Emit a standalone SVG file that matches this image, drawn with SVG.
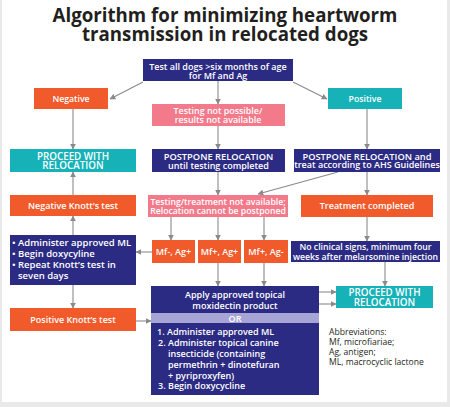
<svg xmlns="http://www.w3.org/2000/svg" width="450" height="407" viewBox="0 0 450 407">
<defs>
<marker id="ah" viewBox="0 0 10 10" refX="9" refY="5" markerWidth="6" markerHeight="6" markerUnits="userSpaceOnUse" orient="auto">
<path d="M0,0 L10,5 L0,10 z" fill="#8a8a8a"/>
</marker>
<style>
.navy{fill:#2c2b84}
.org{fill:#f15a2b}
.teal{fill:#17b2b8}
.pink{fill:#f27a8b}
.lav{fill:#a7a5d6}
text{font-family:"Open Sans","Liberation Sans",sans-serif;fill:#fff;font-weight:600}
.c{text-anchor:middle}
.t{font-size:8.7px}
.b{font-size:9px}
.p{font-size:9.8px}
.l{font-size:9.5px}
.title{font-family:"Open Sans","Liberation Sans",sans-serif;font-weight:700;font-size:18.7px;fill:#231f20;text-anchor:middle}
.ab{fill:#231f20;font-size:8.6px;font-weight:500}
.con line{stroke:#8a8a8a;stroke-width:1.1;fill:none;marker-end:url(#ah)}
</style>
</defs>
<rect width="450" height="407" fill="#e9e9e9"/>
<rect x="2" y="0" width="445" height="402" fill="#fff"/>
<g id="title">
<text class="title" x="225" y="22">Algorithm for minimizing heartworm</text>
<text class="title" x="225" y="41">transmission in relocated dogs</text>
</g>
<g class="con" id="connectors">
<line x1="143" y1="82" x2="110" y2="99"/>
<line x1="293" y1="82" x2="327" y2="99"/>
<line x1="218" y1="81" x2="218" y2="104"/>
<line x1="73" y1="109" x2="73" y2="149"/>
<line x1="367" y1="109" x2="367" y2="149"/>
<line x1="218" y1="126" x2="218" y2="149"/>
<line x1="73" y1="195" x2="73" y2="172"/>
<line x1="218" y1="172" x2="218" y2="195"/>
<line x1="367" y1="172" x2="367" y2="195"/>
<line x1="338" y1="172" x2="258" y2="194"/>
<line x1="171" y1="217" x2="171" y2="240"/>
<line x1="218" y1="217" x2="218" y2="240"/>
<line x1="264" y1="217" x2="264" y2="240"/>
<line x1="152" y1="252" x2="136" y2="252"/>
<line x1="73" y1="235" x2="73" y2="216"/>
<line x1="367" y1="217" x2="367" y2="241"/>
<line x1="73" y1="285" x2="73" y2="308"/>
<line x1="218" y1="263" x2="218" y2="286"/>
<line x1="264" y1="263" x2="264" y2="286"/>
<line x1="385" y1="262" x2="385" y2="286"/>
<line x1="136" y1="321" x2="151" y2="321"/>
<line x1="319" y1="292" x2="336" y2="292"/>
<line x1="319" y1="304" x2="336" y2="304"/>
</g>
<g id="test-all">
<rect class="navy" x="143" y="59" width="150" height="22"/>
<text class="c" font-size="9" x="218" y="70">Test all dogs &gt;six months of age</text>
<text class="c" font-size="9" x="218" y="78.5">for Mf and Ag</text>
</g>
<g id="negative">
<rect class="org" x="34" y="88" width="74" height="21"/>
<text class="c t" x="71" y="101.5">Negative</text>
</g>
<g id="positive">
<rect class="teal" x="328" y="88" width="74" height="21"/>
<text class="c t" x="365" y="101.5">Positive</text>
</g>
<g id="testing-not-possible">
<rect class="pink" x="152" y="104" width="133" height="22"/>
<text class="c" font-size="8.9" x="218" y="114">Testing not possible/</text>
<text class="c" font-size="8.9" x="218" y="123">results not available</text>
</g>
<g id="proceed-left">
<rect class="teal" x="10" y="149" width="126" height="23"/>
<text class="c p" x="73" y="160">PROCEED WITH</text>
<text class="c p" x="73" y="168.5">RELOCATION</text>
</g>
<g id="postpone-mid">
<rect class="navy" x="152" y="149" width="133" height="23"/>
<text class="c" font-size="9.3" x="218.5" y="160">POSTPONE RELOCATION</text>
<text class="c" font-size="9" x="218.5" y="168.5">until testing completed</text>
</g>
<g id="postpone-right">
<rect class="navy" x="294" y="149" width="146" height="23"/>
<text class="c" font-size="9.3" x="367" y="159.5">POSTPONE RELOCATION and</text>
<text class="c" font-size="9" x="367" y="168">treat according to AHS Guidelines</text>
</g>
<g id="neg-knott">
<rect class="org" x="10" y="195" width="126" height="21"/>
<text class="c b" x="73" y="208.5">Negative Knott’s test</text>
</g>
<g id="testing-treatment">
<rect class="pink" x="148" y="195" width="140" height="22"/>
<text class="c t" x="218" y="205">Testing/treatment not available;</text>
<text class="c t" x="218" y="214">Relocation cannot be postponed</text>
</g>
<g id="treatment-completed">
<rect class="org" x="301" y="195" width="132" height="22"/>
<text class="c b" x="367" y="209">Treatment completed</text>
</g>
<g id="mf-neg-ag-pos">
<rect class="org" x="152" y="240" width="43" height="23"/>
<text class="c b" x="173.5" y="255">Mf-,  Ag+</text>
</g>
<g id="mf-pos-ag-pos">
<rect class="org" x="198" y="240" width="43" height="23"/>
<text class="c b" x="219.5" y="255">Mf+,  Ag+</text>
</g>
<g id="mf-pos-ag-neg">
<rect class="org" x="244" y="240" width="44" height="23"/>
<text class="c b" x="266" y="255">Mf+,  Ag-</text>
</g>
<g id="no-clinical">
<rect class="navy" x="291" y="241" width="149" height="21"/>
<text class="c t" x="365.5" y="250">No clinical signs, minimum four</text>
<text class="c t" x="365.5" y="259.5">weeks after melarsomine injection</text>
</g>
<g id="left-actions">
<rect class="navy" x="10" y="235" width="126" height="50"/>
<text class="l" x="12" y="246">• Administer approved ML</text>
<text class="l" x="12" y="257">• Begin doxycyline</text>
<text class="l" x="12" y="268">• Repeat Knott’s test in</text>
<text class="l" x="18" y="279">seven days</text>
</g>
<g id="pos-knott">
<rect class="org" x="10" y="308" width="126" height="23"/>
<text class="c b" x="73" y="323">Positive Knott’s test</text>
</g>
<g id="treatment-box">
<rect class="navy" x="151" y="286" width="168" height="109"/>
<rect class="lav" x="151" y="313" width="168" height="10"/>
<text class="c b" x="235" y="298">Apply approved topical</text>
<text class="c b" x="235" y="309">moxidectin product</text>
<text class="c b" x="235" y="321.5">OR</text>
<text class="b" x="157" y="335">1. Administer approved ML</text>
<text class="b" x="158" y="345.5">2. Administer topical canine</text>
<text class="b" x="168" y="356.5">insecticide (containing</text>
<text class="b" x="168" y="367.5">permethrin +  dinotefuran</text>
<text class="b" x="168" y="378.5">+ pyriproxyfen)</text>
<text class="b" x="158" y="389">3. Begin doxycycline</text>
</g>
<g id="proceed-right">
<rect class="teal" x="336" y="286" width="97" height="22"/>
<text class="c p" x="384.5" y="295.5">PROCEED WITH</text>
<text class="c p" x="384.5" y="305.5">RELOCATION</text>
</g>
<g id="abbreviations">
<text class="ab" x="329" y="335">Abbreviations:</text>
<text class="ab" x="329" y="345">Mf, microfiariae;</text>
<text class="ab" x="329" y="355">Ag, antigen;</text>
<text class="ab" x="329" y="365">ML, macrocyclic lactone</text>
</g>
</svg>
